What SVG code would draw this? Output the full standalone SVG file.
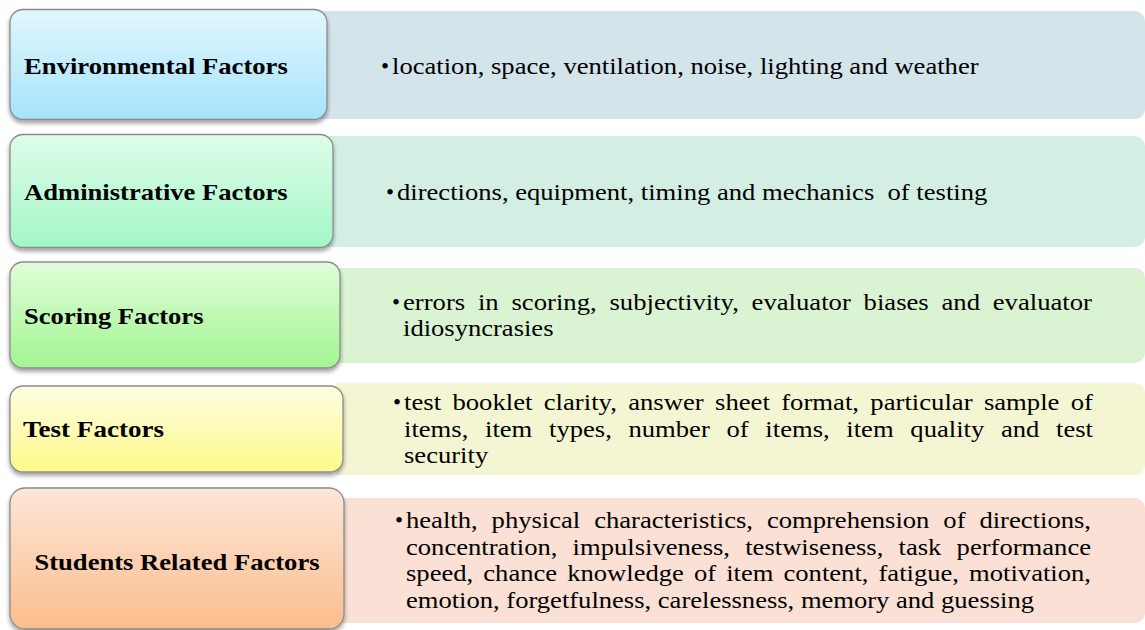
<svg xmlns="http://www.w3.org/2000/svg" width="1145" height="630" viewBox="0 0 1145 630">
<style>
.box{stroke:#8c8c8c;stroke-width:1.3;filter:url(#sh)}
.lbl{font-family:"Liberation Serif","Times New Roman",serif;font-weight:bold;font-size:23px;fill:#000}
.txt{font-family:"Liberation Serif","Times New Roman",serif;font-size:23px;fill:#000}
</style>
<defs>
<filter id="sh" x="-5%" y="-10%" width="110%" height="130%">
<feDropShadow dx="0" dy="3" stdDeviation="2.2" flood-color="#000" flood-opacity="0.38"/>
</filter>
<linearGradient id="g1" x1="0" y1="0" x2="0" y2="1"><stop offset="0" stop-color="#e2f7fd"/><stop offset="1" stop-color="#a5e3fa"/></linearGradient>
<linearGradient id="g2" x1="0" y1="0" x2="0" y2="1"><stop offset="0" stop-color="#dffdea"/><stop offset="1" stop-color="#a3f6c6"/></linearGradient>
<linearGradient id="g3" x1="0" y1="0" x2="0" y2="1"><stop offset="0" stop-color="#e0fdd9"/><stop offset="1" stop-color="#a2f592"/></linearGradient>
<linearGradient id="g4" x1="0" y1="0" x2="0" y2="1"><stop offset="0" stop-color="#fefee2"/><stop offset="1" stop-color="#fdf98a"/></linearGradient>
<linearGradient id="g5" x1="0" y1="0" x2="0" y2="1"><stop offset="0" stop-color="#fde6d8"/><stop offset="1" stop-color="#fbbd8c"/></linearGradient>
</defs>
<rect width="1145" height="630" fill="#fff"/>
<g id="connectors"/>

<g id="environmental">
<path d="M320 11 H1135 A10 10 0 0 1 1145 21 V109 A10 10 0 0 1 1135 119 H320 Z" fill="#d3e4ea"/>
<rect class="box" x="10" y="9.5" width="317" height="110" rx="13" fill="url(#g1)"/>
<text class="lbl" x="24" y="73.5" textLength="263.8" lengthAdjust="spacingAndGlyphs">Environmental Factors</text>
<text class="txt" x="381" y="73.5">•</text>
<text class="txt" x="392" y="73.5" textLength="586.6" lengthAdjust="spacingAndGlyphs">location, space, ventilation, noise, lighting and weather</text>
</g>

<g id="administrative">
<path d="M326 136 H1135 A10 10 0 0 1 1145 146 V237 A10 10 0 0 1 1135 247 H326 Z" fill="#d3efe4"/>
<rect class="box" x="10" y="134.5" width="323" height="113" rx="13" fill="url(#g2)"/>
<text class="lbl" x="24" y="199.5" textLength="263.7" lengthAdjust="spacingAndGlyphs">Administrative Factors</text>
<text class="txt" x="386" y="199.5">•</text>
<text class="txt" x="397" y="199.5" textLength="590.3" lengthAdjust="spacingAndGlyphs">directions, equipment, timing and mechanics&#160; of testing</text>
</g>

<g id="scoring">
<path d="M333 268 H1135 A10 10 0 0 1 1145 278 V353 A10 10 0 0 1 1135 363 H333 Z" fill="#d9f3d3"/>
<rect class="box" x="10" y="262" width="330" height="106" rx="13" fill="url(#g3)"/>
<text class="lbl" x="24" y="324" textLength="179.5" lengthAdjust="spacingAndGlyphs">Scoring Factors</text>
<text class="txt" x="392" y="309.5">•</text>
<text class="txt" x="403" y="309.5" word-spacing="5.25" textLength="689" lengthAdjust="spacingAndGlyphs">errors in scoring, subjectivity, evaluator biases and evaluator</text>
<text class="txt" x="403" y="336" textLength="150.5" lengthAdjust="spacingAndGlyphs">idiosyncrasies</text>
</g>

<g id="test">
<path d="M336 383 H1135 A10 10 0 0 1 1145 393 V465 A10 10 0 0 1 1135 475 H336 Z" fill="#f3f5d3"/>
<rect class="box" x="10" y="386" width="333" height="86" rx="13" fill="url(#g4)"/>
<text class="lbl" x="23" y="437" textLength="141" lengthAdjust="spacingAndGlyphs">Test Factors</text>
<text class="txt" x="393" y="410">•</text>
<text class="txt" x="404" y="410" word-spacing="4.04" textLength="689" lengthAdjust="spacingAndGlyphs">test booklet clarity, answer sheet format, particular sample of</text>
<text class="txt" x="404" y="436.5" word-spacing="8.7" textLength="689" lengthAdjust="spacingAndGlyphs">items, item types, number of items, item quality and test</text>
<text class="txt" x="404" y="463" textLength="84.2" lengthAdjust="spacingAndGlyphs">security</text>
</g>

<g id="students">
<path d="M337 498 H1135 A10 10 0 0 1 1145 508 V613 A10 10 0 0 1 1135 623 H337 Z" fill="#fbe0d5"/>
<rect class="box" x="10" y="488" width="334" height="141" rx="15" fill="url(#g5)"/>
<text class="lbl" x="34.4" y="570" textLength="285.2" lengthAdjust="spacingAndGlyphs">Students Related Factors</text>
<text class="txt" x="395" y="528">•</text>
<text class="txt" x="406" y="528" word-spacing="6.28" textLength="685" lengthAdjust="spacingAndGlyphs">health, physical characteristics, comprehension of directions,</text>
<text class="txt" x="406" y="554.5" word-spacing="7.39" textLength="685" lengthAdjust="spacingAndGlyphs">concentration, impulsiveness, testwiseness, task performance</text>
<text class="txt" x="406" y="581" word-spacing="2.94" textLength="685" lengthAdjust="spacingAndGlyphs">speed, chance knowledge of item content, fatigue, motivation,</text>
<text class="txt" x="406" y="607.5" textLength="628" lengthAdjust="spacingAndGlyphs">emotion, forgetfulness, carelessness, memory and guessing</text>
</g>
</svg>
